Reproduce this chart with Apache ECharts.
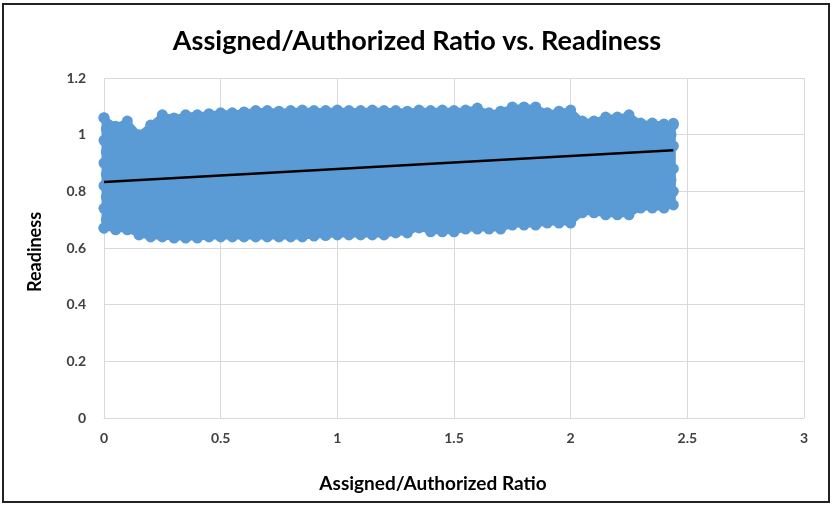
<!DOCTYPE html>
<html>
<head>
<meta charset="utf-8">
<script src="https://cdn.jsdelivr.net/npm/echarts@6/dist/echarts.min.js"></script>
<style>
html,body{margin:0;padding:0;background:#fff;}
#c{width:834px;height:507px;}
</style>
</head>
<body>
<div id="c"></div>
<script>
// Envelope of the dense point cloud
const cloudX = [0,0.05,0.1,0.15,0.2,0.25,0.3,0.35,0.4,0.45,0.5,0.55,0.6,0.65,0.7,0.75,0.8,0.85,0.9,0.95,1.0,1.05,1.1,1.15,1.2,1.25,1.3,1.35,1.4,1.45,1.5,1.55,1.6,1.65,1.7,1.75,1.8,1.85,1.9,1.95,2.0,2.05,2.1,2.15,2.2,2.25,2.3,2.35,2.4,2.44];
const cloudUpper = [1.059,1.03,1.048,1.0,1.034,1.07,1.059,1.07,1.07,1.074,1.077,1.077,1.08,1.085,1.085,1.083,1.085,1.087,1.085,1.085,1.087,1.085,1.085,1.087,1.085,1.085,1.083,1.087,1.085,1.087,1.085,1.087,1.094,1.077,1.083,1.098,1.098,1.098,1.077,1.083,1.087,1.048,1.048,1.062,1.062,1.07,1.041,1.041,1.038,1.035];
const cloudLower = [0.671,0.664,0.664,0.646,0.639,0.639,0.635,0.635,0.635,0.639,0.639,0.639,0.639,0.639,0.639,0.639,0.639,0.639,0.642,0.644,0.646,0.646,0.646,0.646,0.646,0.653,0.653,0.671,0.657,0.657,0.657,0.667,0.667,0.667,0.667,0.681,0.681,0.681,0.688,0.688,0.688,0.724,0.724,0.717,0.717,0.717,0.741,0.741,0.741,0.752];
// Points along the left and right edges of the cloud
const leftEdgeX = [0,0.01,0,0.01,0,0.01,0,0.01,0,0.01,0];
const leftEdgeY = [1.06,1.02,0.98,0.94,0.9,0.86,0.82,0.78,0.74,0.7,0.67];
const rightEdgeX = [2.44,2.43,2.44,2.42,2.44,2.43,2.44,2.43];
const rightEdgeY = [1.04,1.0,0.96,0.92,0.88,0.84,0.8,0.76];
// Linear trend line end points
const trendX = [0, 2.44];
const trendY = [0.833, 0.945];

const xTicks = {min:0, max:3, interval:0.5};
const yTicks = {min:0, max:1.2, interval:0.2};

const blue = '#5B9BD5';
const pts = [];
cloudX.forEach((x,i)=>{ pts.push([x, cloudUpper[i]]); pts.push([x, cloudLower[i]]); });
leftEdgeX.forEach((x,i)=>pts.push([x, leftEdgeY[i]]));
rightEdgeX.forEach((x,i)=>pts.push([x, rightEdgeY[i]]));

const chart = echarts.init(document.getElementById('c'));
const lbl = {fontFamily:'Lato', fontWeight:'bold', fontSize:14, color:'#404040'};
chart.setOption({
  animation:false,
  backgroundColor:'#fff',
  title:{text:'Assigned/Authorized Ratio vs. Readiness', left:'center', top:23,
    textStyle:{fontFamily:'Lato', fontWeight:'bold', fontSize:27, color:'#000'}},
  grid:{left:104, right:30, top:78, bottom:89},
  xAxis:{type:'value', min:xTicks.min, max:xTicks.max, interval:xTicks.interval,
    axisLine:{show:true, lineStyle:{color:'#D9D9D9'}}, axisTick:{show:false},
    splitLine:{show:true, lineStyle:{color:'#D9D9D9'}},
    axisLabel:Object.assign({margin:13}, lbl)},
  yAxis:{type:'value', min:yTicks.min, max:yTicks.max, interval:yTicks.interval,
    axisLine:{show:false}, axisTick:{show:false},
    splitLine:{show:true, lineStyle:{color:'#D9D9D9'}},
    axisLabel:Object.assign({margin:18, formatter:v=>String(+v.toFixed(1))}, lbl)},
  graphic:[
    {type:'rect', shape:{x:3,y:4,width:826,height:498}, style:{fill:null, stroke:'#222', lineWidth:2}, z:100},
    {type:'text', x:433, y:484, style:{text:'Assigned/Authorized Ratio', fontFamily:'Lato', fontWeight:'bold', fontSize:19, fill:'#000', align:'center', verticalAlign:'middle'}},
    {type:'text', x:35, y:252, rotation:Math.PI/2,
      style:{text:'Readiness', fontFamily:'Lato', fontWeight:'bold', fontSize:18, fill:'#000', align:'center', verticalAlign:'middle'}}
  ],
  series:[
    {type:'custom', silent:true, z:2,
      data: cloudX.map((x,i)=>[x, cloudUpper[i], cloudLower[i]]),
      encode:{x:0, y:[1,2]},
      renderItem:(params, api)=>{
        if (params.dataIndex !== 0) return null;
        const poly = [];
        for (let i=0;i<cloudX.length;i++) poly.push(api.coord([cloudX[i], cloudUpper[i]]));
        for (let i=cloudX.length-1;i>=0;i--) poly.push(api.coord([cloudX[i], cloudLower[i]]));
        return {type:'polygon', shape:{points:poly}, style:{fill:blue, stroke:blue, lineWidth:5, lineJoin:'round'}};
      }},
    {type:'scatter', data:pts, symbolSize:11, itemStyle:{color:blue, opacity:1}, z:3},
    {type:'line', data:trendX.map((x,i)=>[x, trendY[i]]), symbol:'none', z:5,
      lineStyle:{color:'#000', width:2.5}}
  ]
});
</script>
</body>
</html>
